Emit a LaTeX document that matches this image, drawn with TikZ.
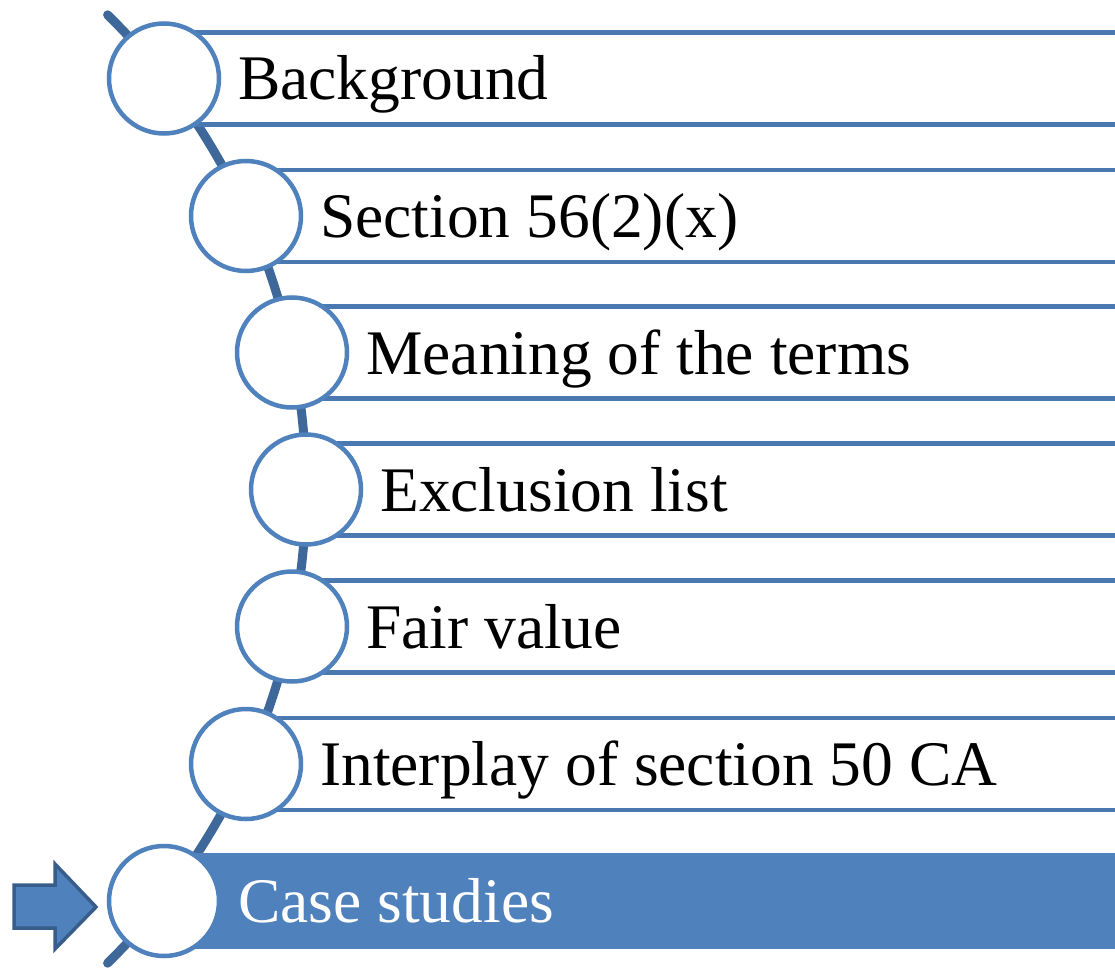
\documentclass[tikz,border=0pt]{standalone}
\usepackage{fontspec}
\setmainfont{Liberation Serif}
\definecolor{accent}{HTML}{4F81BD}
\definecolor{accentline}{HTML}{4A78B0}
\definecolor{spine}{HTML}{3D6899}
\definecolor{arrowedge}{HTML}{385D8A}
\begin{document}
\begin{tikzpicture}[x=1pt,y=-1pt,
  bar/.style={draw=accentline,line width=4.5pt,fill=white},
  activebar/.style={draw=accent,line width=4.5pt,fill=accent},
  dot/.style={circle,draw=accent,line width=4.5pt,fill=white,minimum size=110pt,inner sep=0pt},
  label/.style={anchor=base west,inner sep=0pt,font=\fontsize{63.5}{70}\selectfont}]
\useasboundingbox (0,0) rectangle (1115,968);
\begin{scope}
\clip (0,0) rectangle (1115,968);
% curved spine through the circle centres
\draw[spine,line width=9pt,line cap=round] plot[domain=-45.4:45.4,samples=80]
  ({-360+666*cos(\x)},{489-666*sin(\x)});
% list bars (left end hidden behind the circles)
\foreach \cx/\cy in {164/78.5,246/216,292/352.5,306/489.5,292/626.5,246/764}
  \draw[bar] (\cx,\cy-46) rectangle (1140,\cy+46);
\draw[activebar] (164,855) rectangle (1140,947);
% circles
\foreach \cx/\cy/\nm in {164/78.5/c1,246/216/c2,292/352.5/c3,306/489.5/c4,292/626.5/c5,246/764/c6,164/901/c7}
  \node[dot] (\nm) at (\cx,\cy) {};
\end{scope}
% labels
\node[label] (t1) at ([xshift=74pt,yshift=-21.5pt]c1.center) {Background};
\node[label] (t2) at ([xshift=74pt,yshift=-21.5pt]c2.center) {Section 56(2)(x)};
\node[label] (t3) at ([xshift=74pt,yshift=-21.5pt]c3.center) {Meaning of the terms};
\node[label] (t4) at ([xshift=74pt,yshift=-21.5pt]c4.center) {Exclusion list};
\node[label] (t5) at ([xshift=74pt,yshift=-21.5pt]c5.center) {Fair value};
\node[label] (t6) at ([xshift=74pt,yshift=-21.5pt]c6.center) {Interplay of section 50 CA};
\node[label,text=white] (t7) at ([xshift=74pt,yshift=-21.5pt]c7.center) {Case studies};
% pointer arrow
\draw[fill=accent,draw=arrowedge,line width=3.5pt,line join=miter]
  (14,885) -- (55,885) -- (55,864) -- (96,907) -- (55,949) -- (55,928) -- (14,928) -- cycle;
\end{tikzpicture}
\end{document}
